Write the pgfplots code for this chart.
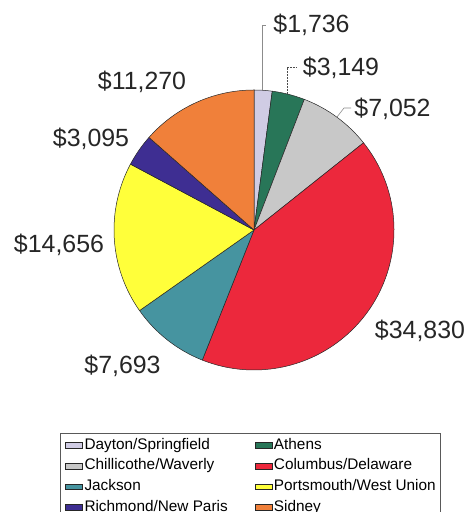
\documentclass[border=0pt]{standalone}
\usepackage{pgfplots}
\usepackage{pgfplotstable}
\pgfplotsset{compat=1.18}
\usepackage{fontspec}
\setmainfont{Liberation Sans}

\definecolor{pie0}{RGB}{208,204,228}
\definecolor{pie1}{RGB}{40,118,88}
\definecolor{pie2}{RGB}{200,200,200}
\definecolor{pie3}{RGB}{236,40,60}
\definecolor{pie4}{RGB}{70,148,160}
\definecolor{pie5}{RGB}{255,255,58}
\definecolor{pie6}{RGB}{62,46,146}
\definecolor{pie7}{RGB}{240,128,58}

% slice data, clockwise from the top
\pgfplotstableread[col sep=comma]{
name,value,lx,ly
Dayton/Springfield,1736,311.5,479
Athens,3149,341,436
Chillicothe/Waverly,7052,392.5,395
Columbus/Delaware,34830,420,173
Jackson,7693,122.5,138
Portsmouth/West Union,14656,59,259
Richmond/New Paris,3095,91,365
Sidney,11270,142,422
}\piedata

\xdef\pietotal{0}
\pgfplotsforeachungrouped \i in {0,...,7}{%
  \pgfplotstablegetelem{\i}{value}\of\piedata
  \xdef\pietotal{\fpeval{\pietotal+\pgfplotsretval}}%
}
\xdef\cum{90}
\pgfplotsforeachungrouped \i in {0,...,7}{%
  \pgfplotstablegetelem{\i}{value}\of\piedata
  \expandafter\xdef\csname pieS\i\endcsname{\cum}%
  \expandafter\xdef\csname pieV\i\endcsname{\pgfplotsretval}%
  \xdef\cum{\fpeval{round(\cum-\pgfplotsretval/\pietotal*360,4)}}%
  \expandafter\xdef\csname pieE\i\endcsname{\cum}%
  \pgfplotstablegetelem{\i}{lx}\of\piedata
  \expandafter\xdef\csname pieX\i\endcsname{\pgfplotsretval}%
  \pgfplotstablegetelem{\i}{ly}\of\piedata
  \expandafter\xdef\csname pieY\i\endcsname{\pgfplotsretval}%
}

\begin{document}
\begin{tikzpicture}
\begin{axis}[
  name=ax,
  at={(0,0)}, anchor=south west,
  x=1bp, y=1bp,
  xmin=0, xmax=471, ymin=0, ymax=512,
  hide axis, clip=false,
  legend columns=2,
  legend cell align=left,
  legend image code/.code={\draw[#1] (0bp,-5bp) rectangle (10bp,5bp);},
  legend style={
    at={(axis cs:60,79)}, anchor=north west,
    draw=black!65, line width=0.6pt,
    inner xsep=5bp, inner ysep=5bp,
    font=\fontsize{15.4}{18}\selectfont,
    nodes={inner sep=0pt, text height=11bp, text depth=3.5bp},
    row sep=6.1bp,
    column sep=1.5bp,
    /tikz/every even column/.append style={column sep=27bp},
  },
]
\path (rel axis cs:0,0) rectangle (rel axis cs:1,1);
\pgfplotsinvokeforeach{0,...,7}{%
  \fill[pie#1, draw=black!85, line width=0.5pt, line join=round]
    (axis cs:254,282) -- ++(\csname pieS#1\endcsname:140bp)
    arc[start angle=\csname pieS#1\endcsname, end angle=\csname pieE#1\endcsname, radius=140bp] -- cycle;
  \node[anchor=base, font=\fontsize{25}{30}\selectfont, text=black!85, inner sep=0pt]
    at (axis cs:\csname pieX#1\endcsname,\csname pieY#1\endcsname)
    {\$\pgfmathprintnumber[assume math mode=true, 1000 sep={,}]{\csname pieV#1\endcsname}};
}
% leader lines
\draw[black!45, line width=0.6pt] (axis cs:262,422) -- (axis cs:262,487) -- (axis cs:266,487);
\draw[black!70, line width=0.5pt, dash pattern=on 2pt off 1pt] (axis cs:287,418) -- (axis cs:287,445) -- (axis cs:297,445);
\draw[black!45, line width=0.6pt] (axis cs:337,395) -- (axis cs:344,404) -- (axis cs:351,404);
% legend
\pgfplotsinvokeforeach{0,...,7}{%
  \addlegendimage{area legend, fill=pie#1, draw=black!85, line width=0.7pt}
  \pgfplotstablegetelem{#1}{name}\of\piedata
  \addlegendentryexpanded{\pgfplotsretval}
}
\end{axis}
\pgfresetboundingbox
\path[use as bounding box] (ax.south west) rectangle (ax.north east);
\end{tikzpicture}
\end{document}
